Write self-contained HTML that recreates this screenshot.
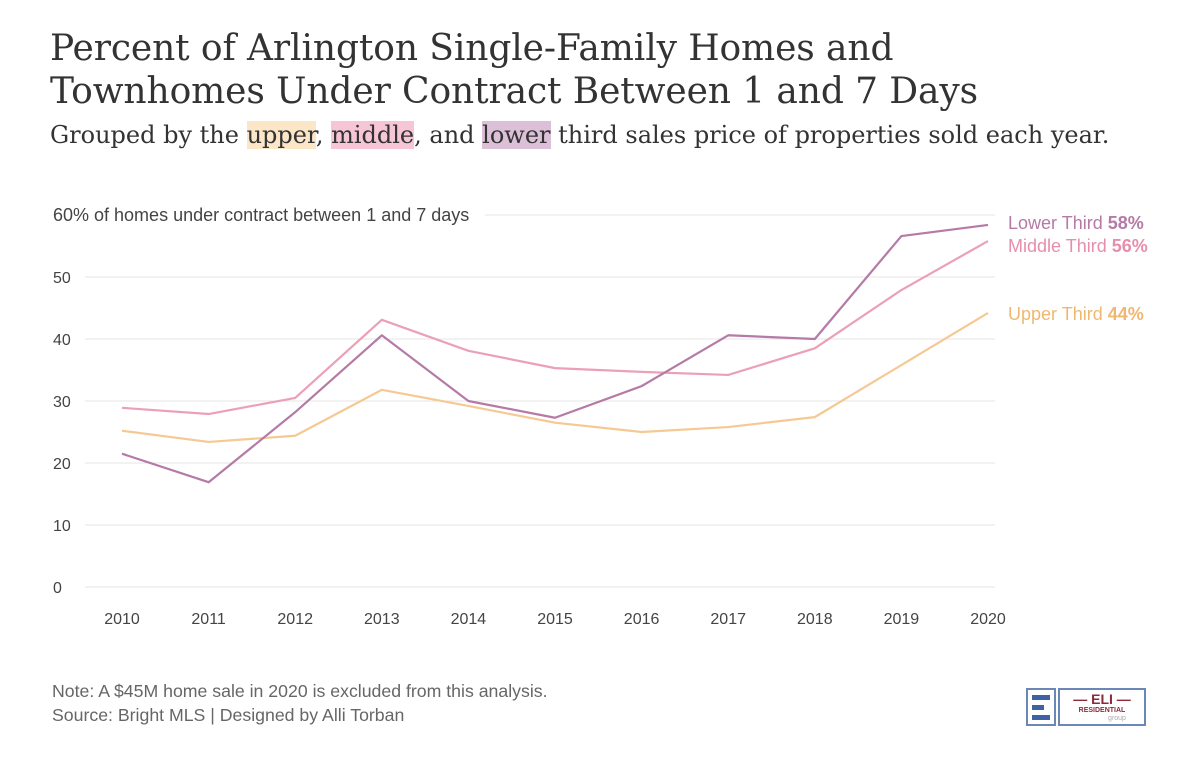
<!DOCTYPE html>
<html><head><meta charset="utf-8"><style>
body{margin:0;background:#fff;width:1200px;height:763px;overflow:hidden;font-family:"Liberation Sans",sans-serif;color:#333}
h1{position:absolute;left:50px;top:27px;margin:0;font-family:"DejaVu Serif",serif;font-weight:normal;font-size:36px;line-height:43px;color:#333;white-space:nowrap;letter-spacing:-0.1px}
.sub{position:absolute;left:50px;top:121px;font-family:"DejaVu Serif",serif;font-size:24px;color:#333;margin:0;white-space:nowrap}
.hu{background:#fbe6c8}.hm{background:#f7c6d6}.hl{background:#dcc0d8}
.note{position:absolute;left:52px;top:679px;font-size:17.7px;color:#666;line-height:24px}
</style></head><body>
<h1>Percent of Arlington Single-Family Homes and<br>Townhomes Under Contract Between 1 and 7 Days</h1>
<p class="sub">Grouped by the <span class="hu">upper</span>, <span class="hm">middle</span>, and <span class="hl">lower</span> third sales price of properties sold each year.</p>
<svg id="chart" width="1200" height="763" style="position:absolute;left:0;top:0" font-family="Liberation Sans, sans-serif"></svg>
<div class="note">Note: A $45M home sale in 2020 is excluded from this analysis.<br>Source: Bright MLS | Designed by Alli Torban</div>
<div style="position:absolute;left:1026px;top:688px;width:120px;height:40px">
<div style="position:absolute;left:0;top:0;width:30px;height:38px;border:2px solid #6a87b8;box-sizing:border-box;background:#fff">
<div style="position:absolute;left:4px;top:5px;width:18px;height:5px;background:#3d63a6"></div>
<div style="position:absolute;left:4px;top:15px;width:12px;height:5px;background:#3d63a6"></div>
<div style="position:absolute;left:4px;top:25px;width:18px;height:5px;background:#3d63a6"></div></div>
<div style="position:absolute;left:32px;top:0;width:88px;height:38px;border:2px solid #6a87b8;box-sizing:border-box;text-align:center">
<div style="font-weight:bold;color:#8b2a3a;font-size:14px;line-height:15px;margin-top:2px">— ELI —</div>
<div style="font-weight:bold;color:#8b2a3a;font-size:7px;line-height:8px">RESIDENTIAL</div>
<div style="color:#aaa;font-size:7px;line-height:7px;padding-left:30px">group</div></div></div>
<script>
const years=[2010,2011,2012,2013,2014,2015,2016,2017,2018,2019,2020];
const lowerVals=[21.5,16.9,28.2,40.6,30,27.3,32.4,40.6,40,56.6,58.4];
const middleVals=[28.9,27.9,30.5,43.1,38.1,35.3,34.7,34.2,38.5,47.9,55.8];
const upperVals=[25.2,23.4,24.4,31.8,29.2,26.5,25,25.8,27.4,35.8,44.2];
const yTicks=[0,10,20,30,40,50,60];
const seriesNames=["Lower Third","Middle Third","Upper Third"];
const svg=document.getElementById('chart');
const NS='http://www.w3.org/2000/svg';
const x=v=>122+(v-2010)*86.6;
const y=v=>587-v*6.2;
function mk(t,a){const e=document.createElementNS(NS,t);for(const k in a)e.setAttribute(k,a[k]);svg.appendChild(e);return e;}
yTicks.forEach(t=>{
  const g=mk('line',{x1:t===60?485:85,x2:995,y1:y(t),y2:y(t),stroke:'#e6e6e6','stroke-width':1});
  
  
  const l=mk('text',{x:53,y:y(t)+6,'font-size':t===60?18:16,fill:'#444'});
  l.textContent=t===60?'60% of homes under contract between 1 and 7 days':t;
  
  
});
years.forEach(yr=>{
  const l=mk('text',{x:x(yr),y:624,'font-size':16,fill:'#444','text-anchor':'middle'});
  l.textContent=yr;
  
  
});
const series=[[upperVals,'#f5c993','upper-third-line'],[middleVals,'#eba0b8','middle-third-line'],[lowerVals,'#b57aa6','lower-third-line']];
series.forEach(([vals,c,n])=>{
  const p=mk('polyline',{points:vals.map((v,i)=>x(years[i])+','+y(v)).join(' '),fill:'none',stroke:c,'stroke-width':2.2,'stroke-linejoin':'round'});
  
  
});
const labs=[[seriesNames[0],lowerVals,'#b57aa6',229],[seriesNames[1],middleVals,'#e58fab',252],[seriesNames[2],upperVals,'#efb870',320]];
labs.forEach(([nm,vals,c,yy])=>{
  const t=mk('text',{x:1008,y:yy,'font-size':18,fill:c});
  t.innerHTML=nm+' <tspan font-weight="bold">'+Math.round(vals[vals.length-1])+'%</tspan>';
  
  
});
</script>
</body></html>
